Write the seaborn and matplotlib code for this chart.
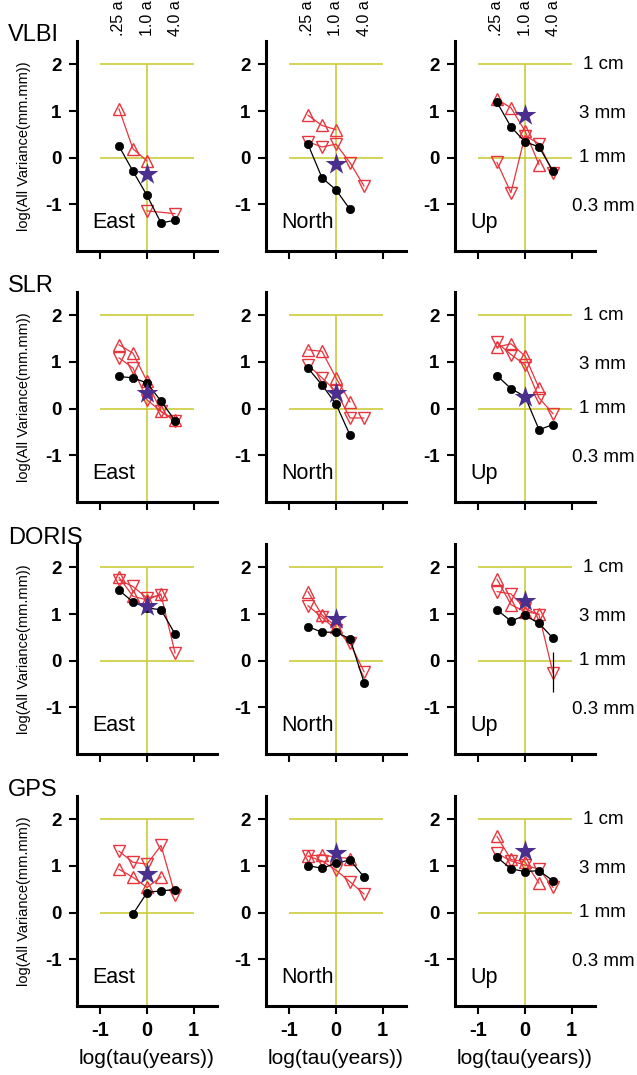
import numpy as np
import matplotlib
matplotlib.use("Agg")
import matplotlib.pyplot as plt
import seaborn as sns

"""## Data"""

#Averaging times in years, plotted as log10(tau)
tau_years = [0.25, 0.5, 1.0, 2.0, 4.0]
tau_log = np.log10(tau_years)

techniques = ['VLBI', 'SLR', 'DORIS', 'GPS']
components = ['East', 'North', 'Up']
top_labels = ['.25 a', '1.0 a', '4.0 a']
mm_labels = ['1 cm', '3 mm', '1 mm', '0.3 mm']
mm_levels = [2.0, 0.95, 0.0, -1.05]

nan = np.nan

#log(Allan variance), rows are East, North, Up
vlbi_dots = [[0.25, -0.29, -0.81, -1.40, -1.34],
             [0.29, -0.43, -0.69, -1.11, nan],
             [1.19, 0.66, 0.34, 0.23, -0.29]]
vlbi_up = [[1.05, 0.19, -0.07, nan, nan],
           [0.91, 0.69, 0.60, nan, nan],
           [1.25, 1.07, 0.57, -0.15, nan]]
vlbi_down = [[nan, nan, -1.14, nan, -1.20],
             [0.34, 0.23, 0.29, -0.11, -0.61],
             [-0.10, -0.75, 0.47, 0.30, -0.33]]
vlbi_star = [-0.34, -0.14, 0.91]

slr_dots = [[0.69, 0.66, 0.55, 0.16, -0.26],
            [0.87, 0.51, 0.10, -0.57, nan],
            [0.71, 0.43, 0.26, -0.45, -0.34]]
slr_up = [[1.37, 1.19, 0.59, -0.06, -0.24],
          [1.26, 1.23, 0.66, 0.14, nan],
          [1.32, 1.39, 1.13, 0.44, nan]]
slr_down = [[1.09, 0.87, 0.19, -0.06, -0.27],
            [0.94, 0.66, 0.37, -0.20, -0.20],
            [1.42, 1.16, 0.94, 0.23, -0.11]]
slr_star = [0.34, 0.34, 0.26]

doris_dots = [[1.51, 1.26, 1.13, 1.09, 0.57],
              [0.73, 0.61, 0.61, 0.47, -0.47],
              [1.09, 0.85, 0.97, 0.80, 0.48]]
doris_up = [[1.79, 1.38, 1.30, 1.43, nan],
            [1.48, 0.98, 0.73, nan, nan],
            [1.75, 1.20, 1.05, 1.00, nan]]
doris_down = [[1.73, 1.59, 1.34, 1.41, 0.16],
              [1.18, 0.93, 0.66, 0.37, -0.24],
              [1.48, 1.43, 1.12, 0.98, -0.27]]
doris_star = [1.18, 0.90, 1.27]
#Error bar on last DORIS Up point
doris_up_err = [-0.68, 0.18]

gps_dots = [[nan, -0.03, 0.43, 0.47, 0.49],
            [1.01, 0.95, 1.06, 1.13, 0.76],
            [1.19, 0.94, 0.88, 0.90, 0.68]]
gps_up = [[0.93, 0.76, 0.54, 0.77, nan],
          [1.21, 1.24, 1.19, 1.16, nan],
          [1.64, 1.14, 1.09, 0.63, nan]]
gps_down = [[1.32, 1.08, 1.04, 1.44, 0.38],
            [1.21, 1.11, 0.91, 0.66, 0.40],
            [1.27, 1.11, 1.02, 0.93, 0.54]]
gps_star = [0.83, 1.27, 1.32]

all_dots = [vlbi_dots, slr_dots, doris_dots, gps_dots]
all_up = [vlbi_up, slr_up, doris_up, gps_up]
all_down = [vlbi_down, slr_down, doris_down, gps_down]
all_star = [vlbi_star, slr_star, doris_star, gps_star]

"""## Style"""

sns.set_style("ticks", {'axes.edgecolor': 'black', 'text.color': 'black',
                        'axes.labelcolor': 'black', 'xtick.color': 'black',
                        'ytick.color': 'black'})
plt.rcParams['font.family'] = ['Liberation Sans', 'DejaVu Sans']

red = '#e8343c'
yellow = '#cccc3a'
star_col = '#4a2f8e'

W, H = 637, 1075
col_left = [77, 266, 455]
row_top = [41, 292, 544, 796]
ax_w, ax_h = 140, 210

fig = plt.figure(figsize=(W / 100, H / 100), dpi=100)

def draw_panel(ax, dots, up, down, star):
    #reference lines at 1 cm / 1 mm level and tau = 1 year
    ax.hlines([0, 2], -1, 1, color=yellow, lw=1.2, zorder=1)
    ax.vlines(0, -2, 2, color=yellow, lw=1.2, zorder=1)

    sns.lineplot(x=tau_log, y=up, ax=ax, color=red, lw=0.9, marker='^',
                 markersize=8.5, mfc='none', mec=red, mew=1.0,
                 estimator=None, sort=False, zorder=2)
    sns.lineplot(x=tau_log, y=down, ax=ax, color=red, lw=0.9, marker='v',
                 markersize=8.5, mfc='none', mec=red, mew=1.0,
                 estimator=None, sort=False, zorder=2)
    sns.lineplot(x=tau_log, y=dots, ax=ax, color='k', lw=0.9, marker='o',
                 markersize=6, mfc='k', mec='k', mew=0.5,
                 estimator=None, sort=False, zorder=3)
    sns.scatterplot(x=[tau_log[2]], y=[star], ax=ax, marker='*', s=270,
                    color=star_col, linewidth=0, zorder=4)

for r, tech in enumerate(techniques):
    for c, comp in enumerate(components):
        top = row_top[r]
        ax = fig.add_axes([col_left[c] / W, 1 - (top + ax_h) / H, ax_w / W, ax_h / H])
        draw_panel(ax, all_dots[r][c], all_up[r][c], all_down[r][c], all_star[r][c])

        if r == 2 and c == 2:
            ax.vlines(tau_log[4], doris_up_err[0], doris_up_err[1], color='k', lw=0.9, zorder=3)

        ax.set_xlim(-1.5, 1.5)
        ax.set_ylim(-2, 2.5)
        ax.set_xticks([-1, 0, 1])
        ax.set_yticks([-1, 0, 1, 2])
        sns.despine(ax=ax)
        for s in ['left', 'bottom']:
            ax.spines[s].set_linewidth(2.2)
        ax.tick_params(direction='out', length=6, width=1.5, pad=5)
        ax.set_yticklabels(['-1', '0', '1', '2'], fontsize=13.5, fontweight='bold')

        if r == 3:
            ax.set_xticklabels(['-1', '0', '1'], fontsize=14.5, fontweight='bold')
            ax.set_xlabel('log(tau(years))', fontsize=15, labelpad=6)
        else:
            ax.set_xticklabels([])
            ax.set_xlabel('')

        if c == 0:
            ax.set_ylabel('log(All Variance(mm.mm))', fontsize=10.5)
            ax.yaxis.set_label_coords(-0.33, 0.5)
            fig.text(8 / W, 1 - top / H, tech, fontsize=17, ha='left', va='baseline')
        else:
            ax.set_ylabel('')

        ax.text(-1.18, -1.5, comp, fontsize=15.5, ha='left', va='baseline')

        #averaging time labels above the top row
        if r == 0:
            for xi, lab in zip([tau_log[0], tau_log[2], tau_log[4]], top_labels):
                ax.text(xi, 2.6, lab, rotation=90, fontsize=11.5, ha='center',
                        va='bottom', clip_on=False)

        #equivalent amplitude labels at the right
        if c == 2:
            for lev, lab in zip(mm_levels, mm_labels):
                ax.text(1.67, lev, lab, fontsize=13.5, ha='center', va='center',
                        clip_on=False)

fig.savefig('out.png', dpi=100)
